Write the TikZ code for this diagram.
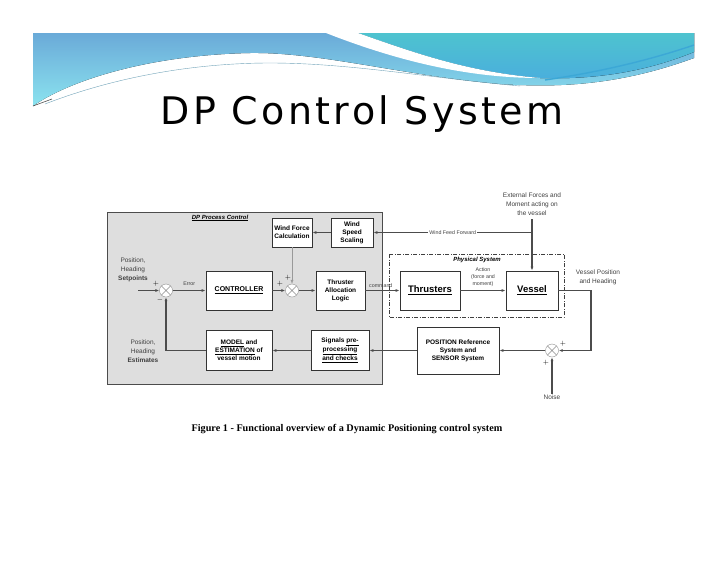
\documentclass[tikz,border=0pt]{standalone}
\usepackage{fontspec}
\setmainfont{Liberation Sans}
\newfontfamily\titlefont[LetterSpace=9]{DejaVu Sans}
\newfontfamily\capfont{Liberation Serif}
\usepackage{xcolor}
\usetikzlibrary{arrows.meta}
\definecolor{bandtop}{HTML}{6AAAD8}
\definecolor{bandbot}{HTML}{8BE3EF}
\definecolor{tealtop}{HTML}{4EC3CF}
\definecolor{tealbot}{HTML}{4AAEDD}
\definecolor{accent}{HTML}{3CA8D6}
\definecolor{panel}{HTML}{DEDEDE}

\begin{document}
\begin{tikzpicture}[x=1pt,y=-1pt,>={Latex[length=4pt,width=3pt]},
 block/.style={draw=black!80,fill=white,line width=.8pt,align=center,inner sep=1pt,
               font=\fontsize{6.5}{8}\selectfont\bfseries},
 bigblock/.style={block,font=\fontsize{9.5}{11}\selectfont\bfseries},
 junction/.style={circle,draw=black!45,fill=white,minimum size=13pt,inner sep=0pt,
   path picture={\draw[black!45] (path picture bounding box.north west)--(path picture bounding box.south east)
                 (path picture bounding box.north east)--(path picture bounding box.south west);}},
 wire/.style={draw=black!70,line width=1.1pt},
 note/.style={align=center,inner sep=0pt,font=\fontsize{6.5}{9}\selectfont,text=black!75},
 tiny/.style={inner sep=0pt,font=\fontsize{5.3}{7}\selectfont,text=black!75,align=center},
 sign/.style={inner sep=0pt,font=\fontsize{7}{7}\selectfont\bfseries}]
 \useasboundingbox (0,0) rectangle (728,563);
 \fill[top color=bandtop,bottom color=bandbot] (33,33) -- (694,33) -- (694,58)
   .. controls (620,85) and (560,88) .. (500,84) .. controls (400,75) and (320,52) .. (250,53)
   .. controls (150,55) and (70,80) .. (33,106) -- cycle;
 \fill[top color=tealtop,bottom color=tealbot] (358,33) -- (694,33) -- (694,52)
   .. controls (650,70) and (600,80) .. (540,78) .. controls (470,72) and (420,55) .. (358,33);
 \fill[white] (326,33) -- (358,33) .. controls (420,55) and (470,72) .. (540,78)
   .. controls (470,78) and (400,62) .. (326,33);
 \draw[accent,line width=1.4pt] (545,80) .. controls (600,72) and (650,60) .. (694,45);
 \draw[cyan!40!gray,line width=.4pt] (45,104) .. controls (120,75) and (200,63) .. (270,63)
   .. controls (350,63) and (430,78) .. (520,86);
 \draw[black!70,line width=.6pt] (33,106) -- (52,99);
 \node[font=\titlefont\fontsize{38}{40}\selectfont] (title) at (362,114) {DP Control System};
 \draw[draw=black!70,fill=panel,line width=.8pt] (107,212) rectangle (382,384);
 \draw[black!75,line width=.6pt,dash pattern=on 4pt off 1.5pt on 1pt off 1.5pt] (389,254) rectangle (564,317);
 \node[inner sep=0pt,font=\fontsize{6}{7}\selectfont\bfseries\itshape] (dplbl) at (220,218) {\underline{DP Process Control}};
 \node[inner sep=0pt,font=\fontsize{6}{7}\selectfont\bfseries\itshape] (phylbl) at (477,260) {Physical System};
 \node[block,minimum width=40pt,minimum height=29pt] (wfc) at (292,232.5) {Wind Force\\Calculation};
 \node[block,minimum width=42pt,minimum height=29pt] (wss) at (352,232.5) {Wind\\Speed\\Scaling};
 \node[junction] (s1) at (166,290.5) {};
 \node[junction] (s2) at (292,290.5) {};
 \node[junction] (s3) at (552,350.5) {};
 \node[block,minimum width=66pt,minimum height=39pt,font=\fontsize{7}{8}\selectfont\bfseries] (ctrl) at (239,290.5) {\underline{CONTROLLER}};
 \node[block,minimum width=49pt,minimum height=39pt] (tal) at (340.5,290.5) {Thruster\\Allocation\\Logic};
 \node[bigblock,minimum width=60pt,minimum height=39pt] (thr) at (430,290.5) {\underline{Thrusters}};
 \node[bigblock,minimum width=52pt,minimum height=39pt] (ves) at (532,290.5) {\underline{Vessel}};
 \node[block,minimum width=66pt,minimum height=40pt] (mod) at (239,350.5) {\underline{MODEL} and\\\underline{ESTIMATION} of\\vessel motion};
 \node[block,minimum width=58pt,minimum height=40pt] (sig) at (340,350.5) {Signals \underline{pre-}\\\underline{processing}\\\underline{and checks}};
 \node[block,minimum width=82pt,minimum height=47pt] (pos) at (458,350.5) {POSITION Reference\\System and\\SENSOR System};
 \node[note] (setlbl) at (133,270) {Position,\\Heading\\\textbf{Setpoints}};
 \node[note] (estlbl) at (143,351) {Position,\\Heading\\\textbf{Estimates}};
 \node[note] (extlbl) at (532,204) {External Forces and\\Moment acting on\\the vessel};
 \node[note] (vplbl) at (598,277) {Vessel Position\\and Heading};
 \node[note] (noise) at (552,397) {Noise};
 \coordinate (setin) at (138,290.5);
 \coordinate (extin) at (532,219);
 \coordinate (wffjoin) at (532,232.5);
 \coordinate (fbcorner) at (591,350.5);
 \draw[wire,->] (setin) -- (s1.west);
 \draw[wire,->] (s1.east) -- node[tiny,above=4pt] {Error} (ctrl.west);
 \draw[wire,->] (ctrl.east) -- (s2.west);
 \draw[black!40,line width=.5pt,->] (wfc.south) -- (s2.north);
 \draw[wire,->] (s2.east) -- (tal.west);
 \draw[wire,->] (tal.east) -- node[tiny,above=2pt,pos=.45] {command} (thr.west);
 \draw[wire,->] (thr.east) -- node[tiny,above=3pt] {Action\\(force and\\moment)} (ves.west);
 \draw[wire,->] (extin) -- (ves.north);
 \draw[wire,->] (wffjoin) -- node[tiny,fill=white,inner xsep=1pt] {Wind Feed Forward} (wss.east);
 \draw[wire,->] (wss.west) -- (wfc.east);
 \draw[wire,->] (ves.east) -| (fbcorner) -- (s3.east);
 \draw[wire,->] (noise.north) -- (s3.south);
 \draw[wire,->] (s3.west) -- (pos.east);
 \draw[wire,->] (pos.west) -- (sig.east);
 \draw[wire,->] (sig.west) -- (mod.east);
 \draw[wire,->] (mod.west) -| (s1.south);
 \foreach \x/\y/\s [count=\i] in {156/284/+,160/300/-,280/284/+,288/278/+,563/344/+,546/363/+}
   \node[sign] (sg\i) at (\x,\y) {$\s$};
 \node[font=\capfont\bfseries\fontsize{10.2}{12}\selectfont] (caption) at (347,429)
   {Figure 1 - Functional overview of a Dynamic Positioning control system};
\end{tikzpicture}
\end{document}
